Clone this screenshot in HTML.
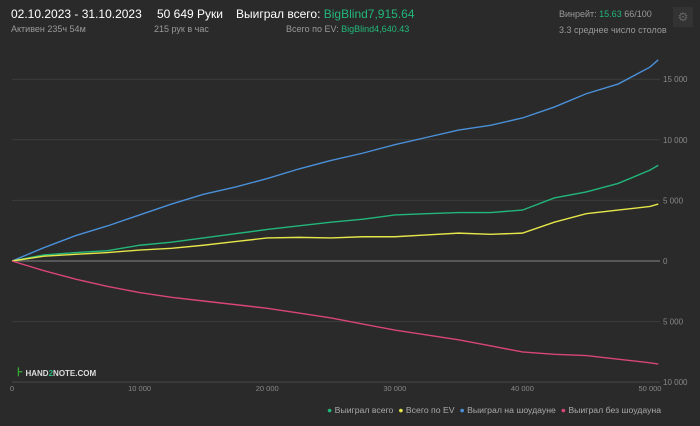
<!DOCTYPE html>
<html><head><meta charset="utf-8"><style>
body{margin:0;background:#2a2a2a;width:700px;height:426px;overflow:hidden;font-family:"Liberation Sans",sans-serif;color:#fff}
.t{position:absolute;white-space:nowrap}
.g{color:#22b77a}
</style></head><body>
<div class="t" style="left:11px;top:7px;font-size:12px">02.10.2023 - 31.10.2023</div>
<div class="t" style="left:11px;top:24px;font-size:9px;color:#999">Активен 235ч 54м</div>
<div class="t" style="left:157px;top:7px;font-size:12px">50 649 Руки</div>
<div class="t" style="left:154px;top:24px;font-size:9px;color:#999">215 рук в час</div>
<div class="t" style="left:236px;top:7px;font-size:12px">Выиграл всего: <span class="g">BigBlind7,915.64</span></div>
<div class="t" style="left:286px;top:24px;font-size:9px;color:#999">Всего по EV: <span class="g">BigBlind4,640.43</span></div>
<div class="t" style="left:559px;top:9px;font-size:9px;color:#999">Винрейт: <span class="g">15.63</span> 66/100</div>
<div class="t" style="left:559px;top:25px;font-size:9px;color:#999">3.3 среднее число столов</div>
<div class="t" style="left:673px;top:7px;width:20px;height:20px;background:#333;color:#666;font-size:12px;text-align:center;line-height:20px">⚙</div>
<svg id="c" width="700" height="426" style="position:absolute;left:0;top:0"></svg>
<div class="t" style="left:17px;top:365px;font-size:8px;font-weight:bold;color:#ddd"><span style="color:#3a3;font-size:12px">⊦</span> HAND<span class="g">2</span>NOTE.COM</div>
<div class="t" style="left:327px;top:405px;font-size:8.7px;color:#aaa">
<span><span style="color:#22b77a">●</span> Выиграл всего</span>&nbsp;
<span><span style="color:#e6e64a">●</span> Всего по EV</span>&nbsp;
<span><span style="color:#4a90d9">●</span> Выиграл на шоудауне</span>&nbsp;
<span><span style="color:#d9457a">●</span> Выиграл без шоудауна</span></div>
<script>
const hands=[0,2500,5000,7500,10000,12500,15000,17500,20000,22500,25000,27500,30000,32500,35000,37500,40000,42500,45000,47500,50000,50649];
const showdown=[0,1100,2100,2900,3800,4700,5500,6100,6800,7600,8300,8900,9600,10200,10800,11200,11800,12700,13800,14600,16000,16600];
const wonTotal=[0,500,700,850,1300,1550,1900,2250,2600,2900,3200,3450,3800,3900,4000,4000,4200,5200,5700,6400,7500,7900];
const evTotal=[0,400,550,700,900,1050,1300,1600,1900,1950,1900,2000,2000,2150,2300,2200,2300,3200,3900,4200,4500,4700];
const nonShowdown=[0,-800,-1500,-2100,-2600,-3000,-3300,-3600,-3900,-4300,-4700,-5200,-5700,-6100,-6500,-7000,-7500,-7700,-7800,-8100,-8400,-8500];
const yTicks=[15000,10000,5000,0,-5000,-10000];
const yTickLabels=["15 000","10 000","5 000","0","5 000","10 000"];
const xTicks=[0,10000,20000,30000,40000,50000];
const xTickLabels=["0","10 000","20 000","30 000","40 000","50 000"];
const svg=document.getElementById('c'),NS='http://www.w3.org/2000/svg';
const X=h=>12+h*0.01276, Y=v=>261-v*0.01212;
function mk(t,a){const e=document.createElementNS(NS,t);for(const k in a)e.setAttribute(k,a[k]);svg.appendChild(e);return e;}
yTicks.forEach((v,i)=>{
 const l=mk('line',{x1:12,x2:660,y1:Y(v),y2:Y(v),stroke:v===0?'#666':'#3c3c3c','stroke-width':v===0?1.5:1});
 
 
 const t=mk('text',{x:663,y:Y(v)+3,fill:'#888','font-size':8,'font-family':'Liberation Sans'});
 t.textContent=yTickLabels[i];
 
 
});
const ax=mk('line',{x1:12,x2:660,y1:382,y2:382,stroke:'#444'});


xTicks.forEach((h,i)=>{
 const t=mk('text',{x:X(h),y:391,fill:'#888','font-size':7.5,'text-anchor':'middle','font-family':'Liberation Sans'});
 t.textContent=xTickLabels[i];
 
 
});
[[showdown,'#4a90d9','line-showdown'],[wonTotal,'#22b77a','line-won-total'],[evTotal,'#e6e64a','line-ev'],[nonShowdown,'#d9457a','line-non-showdown']].forEach(([d,c,n])=>{
 const p=mk('polyline',{points:d.map((v,i)=>X(hands[i])+','+Y(v)).join(' '),fill:'none',stroke:c,'stroke-width':1.4});
 
 
});
</script>
</body></html>
